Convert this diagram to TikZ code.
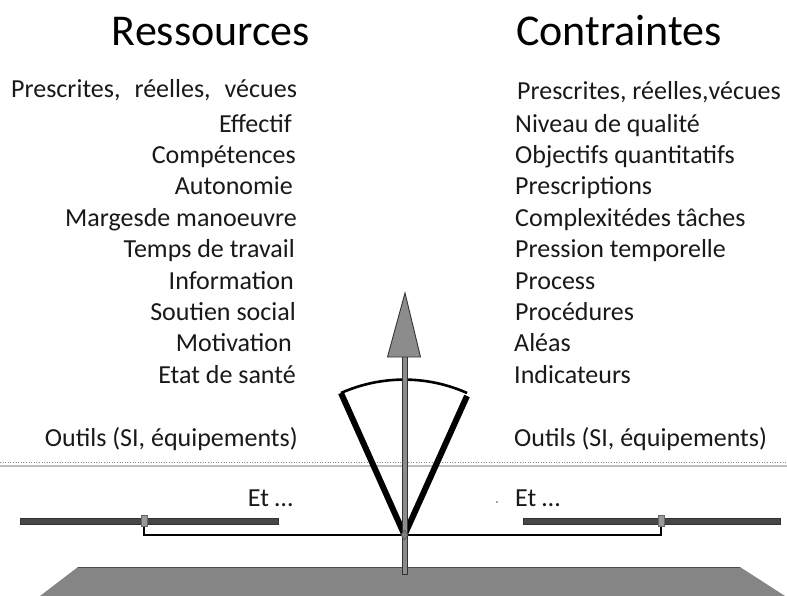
\documentclass[tikz,border=0pt]{standalone}
\usepackage{fontspec}
\setmainfont{Carlito}
\begin{document}
\begin{tikzpicture}[x=1pt,y=-1pt,
  title/.style={font=\fontsize{44}{48}\selectfont, inner sep=0pt, anchor=base},
  item/.style={font=\fontsize{26}{30}\selectfont, inner sep=0pt, text=black!90},
  leftitem/.style={item, anchor=base east},
  rightitem/.style={item, anchor=base west},
  beam/.style={draw=black!80, fill=black!72, line width=0.8pt},
  link/.style={draw=black, line width=2.6pt, line join=miter},
  needle/.style={draw=black, line width=6pt, line cap=butt},
  shaftstyle/.style={draw=black!80, fill=black!45, line width=0.9pt}]
\useasboundingbox (0,0) rectangle (787,596);
\fill[white] (0,0) rectangle (787,596);

% headings
\node[title] (res) at (211,46) {Ressources};
\node[title] (con) at (619,46) {Contraintes};

% resources column
\node[leftitem] (r0) at (297,98) {Prescrites,\hspace{14pt}réelles,\hspace{14pt}vécues};
\node[leftitem] (r1) at (292,133) {Effectif};
\node[leftitem] (r2) at (296,164) {Compétences};
\node[leftitem] (r3) at (293,195) {Autonomie};
\node[leftitem] (r4) at (297,226) {Margesde manoeuvre};
\node[leftitem] (r5) at (295,258) {Temps de travail};
\node[leftitem] (r6) at (294,289) {Information};
\node[leftitem] (r7) at (296,320) {Soutien social};
\node[leftitem] (r8) at (292,351) {Motivation};
\node[leftitem] (r9) at (296,383) {Etat de santé};
\node[leftitem] (r10) at (298,446) {Outils (SI, équipements)};
\node[leftitem] (r11) at (293,506) {Et \dots};

% constraints column
\node[rightitem] (c0) at (517,100) {Prescrites, réelles,vécues};
\node[rightitem] (c1) at (515,133) {Niveau de qualité};
\node[rightitem] (c2) at (515,164) {Objectifs quantitatifs};
\node[rightitem] (c3) at (515,195) {Prescriptions};
\node[rightitem] (c4) at (515,226) {Complexitédes tâches};
\node[rightitem] (c5) at (515,258) {Pression temporelle};
\node[rightitem] (c6) at (515,289) {Process};
\node[rightitem] (c7) at (515,320) {Procédures};
\node[rightitem] (c8) at (514,351) {Aléas};
\node[rightitem] (c9) at (514,383) {Indicateurs};
\node[rightitem] (c10) at (514,446) {Outils (SI, équipements)};
\node[rightitem] (c11) at (515,506) {Et \dots};
\fill[black!70] (497,502) circle (0.9);

% faint horizontal rule
\draw[black!45, line width=0.6pt, dotted] (0,462.5) -- (787,462.5);
\draw[black!25, line width=2pt] (0,466) -- (787,466);

% base plate
\fill[black!48] (78,567) -- (740,567) -- (785,596) -- (40,596) -- cycle;
\draw[black!70, line width=1pt] (78,567) -- (740,567);

% key points of the balance
\coordinate (pivot) at (404.5,535);
\coordinate (lhook) at (144,521);
\coordinate (rhook) at (661,521);
\coordinate (lend) at (341,393);
\coordinate (rend) at (467,396);

% pans
\path[beam] (20,518) rectangle (278,524);
\path[beam] (523,518) rectangle (780,524);

% links from pivot to the pans
\draw[link] (lhook) -- (lhook |- pivot) -- (pivot) -- (rhook |- pivot) -- (rhook);
\fill[black!40, draw=black!60, line width=0.5pt] (141.5,515) rectangle (147,526);
\fill[black!40, draw=black!60, line width=0.5pt] (658.5,515) rectangle (664,526);

% dial sector
\draw[needle] (pivot) -- (lend);
\draw[needle] (pivot) -- (rend);
\draw[black, line width=2.6pt] (lend) arc[start angle=-114, end angle=-66, radius=155];

% central arrow
\path[shaftstyle] (402,356) rectangle (407,574);
\path[shaftstyle] (405,293) -- (420.5,357) -- (387.5,357) -- cycle;
\fill[black!50, draw=black!70, line width=0.5pt] (404.5,530) -- (408,535) -- (404.5,540) -- (401,535) -- cycle;
\end{tikzpicture}
\end{document}
